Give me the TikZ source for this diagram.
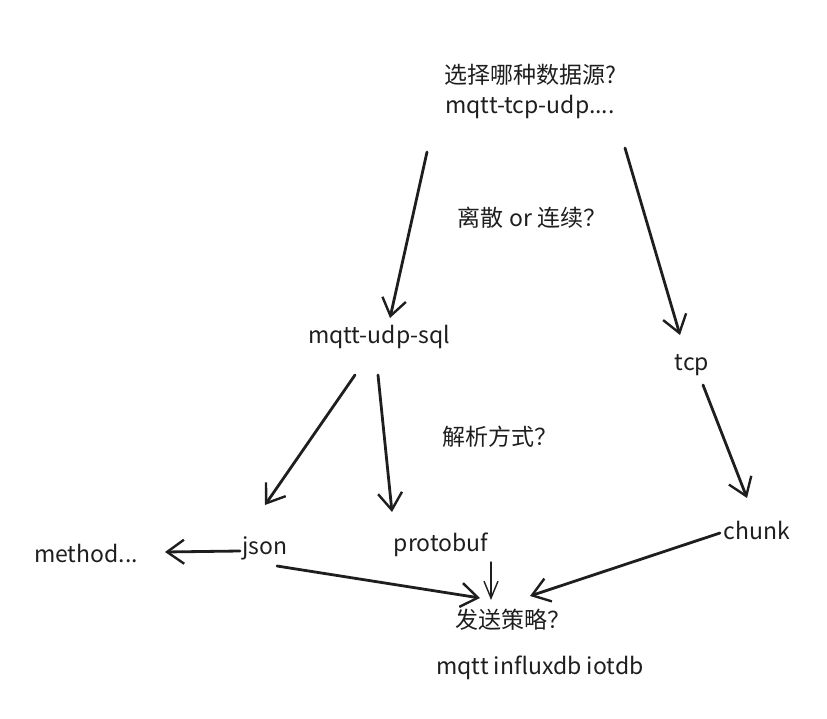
\documentclass[tikz,border=0pt]{standalone}
\usepackage{fontspec}
\setmainfont{Noto Sans CJK SC}
\usetikzlibrary{arrows.meta}
\definecolor{ink}{HTML}{1E1E1E}
\begin{document}
\begin{tikzpicture}[x=1pt,y=-1pt,
  lbl/.style={text=ink,font=\fontsize{23}{27}\selectfont,inner sep=2pt},
  arr/.style={draw=ink,line width=2.8pt,line cap=round,
    -{Straight Barb[length=17pt,width=24pt,line width=2.4pt]}},
  slim/.style={arr,line width=1.4pt,
    -{Straight Barb[length=17pt,width=14pt,line width=1.4pt]}}]
\useasboundingbox (0,0) rectangle (827,719);
\node[lbl] (ask) at (530,75) {选择哪种数据源?};
\node[lbl] (src) at (530,107) {mqtt-tcp-udp....};
\node[lbl] (kind) at (532,218) {离散 or 连续？};
\node[lbl] (sql) at (379,337) {mqtt-udp-sql};
\node[lbl] (tcp) at (692,365) {tcp};
\node[lbl] (parse) at (500,437) {解析方式？};
\node[lbl] (json) at (265,548) {json};
\node[lbl] (proto) at (441,545) {protobuf};
\node[lbl] (chunk) at (757,530) {chunk};
\node[lbl] (meth) at (86,553) {method...};
\node[lbl] (send) at (513,620) {发送策略？};
\node[lbl] (sink) at (540,668) {mqtt influxdb iotdb};

\draw[arr] ([shift={(-103,45)}]src.center) -- ([shift={(11,-19)}]sql.center);
\draw[arr] ([shift={(95,41)}]src.center) -- ([shift={(-12,-30)}]tcp.center);
\draw[arr] ([shift={(-24,38)}]sql.center) -- ([shift={(0,-43)}]json.center);
\draw[arr] ([shift={(-1,38)}]sql.center) -- ([shift={(-49,-33)}]proto.center);
\draw[arr] ([shift={(11,20)}]tcp.center) -- ([shift={(-10,-32)}]chunk.center);
\draw[arr] ([shift={(-25,3)}]json.center) -- ([shift={(79,-1)}]meth.center);
\draw[arr] ([shift={(12,18)}]json.center) -- ([shift={(-33,-22)}]send.center);
\draw[slim] ([shift={(50,17)}]proto.center) -- ([shift={(-22,-20)}]send.center);
\draw[arr] ([shift={(-37,3)}]chunk.center) -- ([shift={(17,-24)}]send.center);
\end{tikzpicture}
\end{document}
